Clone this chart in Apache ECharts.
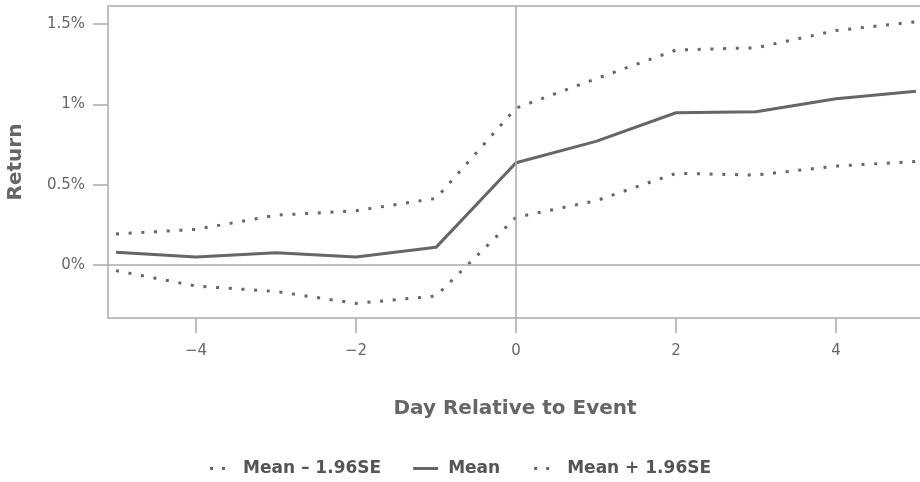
<!DOCTYPE html>
<html>
<head>
<meta charset="utf-8">
<script src="https://cdn.jsdelivr.net/npm/echarts@6/dist/echarts.min.js"></script>
<style>html,body{margin:0;padding:0;background:#fff}#c{width:920px;height:482px}</style>
</head>
<body>
<div id="c"></div>
<script>
var days = [-5, -4, -3, -2, -1, 0, 1, 2, 3, 4, 5];
var meanVals  = [0.079, 0.050, 0.077, 0.050, 0.110, 0.637, 0.770, 0.948, 0.955, 1.035, 1.082];
var upperVals = [0.193, 0.222, 0.310, 0.338, 0.415, 0.977, 1.160, 1.339, 1.353, 1.460, 1.515];
var lowerVals = [-0.035, -0.131, -0.165, -0.239, -0.193, 0.297, 0.400, 0.571, 0.560, 0.616, 0.645];
var xTicks = [-4, -2, 0, 2, 4];
var yTicks = [0, 0.5, 1, 1.5];

function pairs(vals) { return days.map(function (d, i) { return [d, vals[i]]; }); }
var FONT = 'DejaVu Sans';
var LINE = '#666666';
var DOT_ICON = 'path://M0,0M30,3M2,0h3v3h-3zM14,0h3v3h-3z';
var LINE_ICON = 'path://M0,0M30,3M0,0h25v3h-25z';
var chart = echarts.init(document.getElementById('c'), null, { renderer: 'canvas' });
chart.setOption({
  animation: false,
  textStyle: { fontFamily: FONT },
  grid: { left: 108, right: -2, top: 6, bottom: 164, containLabel: false, outerBoundsMode: 'none',
    show: true, borderColor: '#aaaaaa', borderWidth: 1.5, backgroundColor: 'transparent' },
  legend: {
    top: 455, left: 203, itemGap: 32, itemWidth: 30, itemHeight: 3,
    textStyle: { fontFamily: FONT, fontWeight: 'bold', fontSize: 17, color: '#555555' },
    data: [
      { name: 'Mean – 1.96SE', icon: DOT_ICON },
      { name: 'Mean', icon: LINE_ICON },
      { name: 'Mean + 1.96SE', icon: DOT_ICON }
    ]
  },
  xAxis: {
    type: 'value', min: -5.1, max: 5.075,
    name: 'Day Relative to Event', nameLocation: 'middle', nameGap: 81,
    nameTextStyle: { fontFamily: FONT, fontWeight: 'bold', fontSize: 20, color: '#666666' },
    axisLine: { show: false, onZero: false },
    axisTick: { show: true, inside: false, length: 15, customValues: xTicks, lineStyle: { color: '#aaaaaa', width: 1.5 } },
    axisLabel: { customValues: xTicks, margin: 26, fontSize: 15, color: '#666666', fontFamily: FONT,
      formatter: function (v) { return v < 0 ? '\u2212' + Math.abs(v) : String(v); } },
    splitLine: { show: false }
  },
  yAxis: {
    type: 'value', min: -0.33, max: 1.613,
    name: 'Return', nameLocation: 'middle', nameGap: 82,
    nameTextStyle: { fontFamily: FONT, fontWeight: 'bold', fontSize: 20, color: '#666666' },
    axisLine: { show: false, onZero: false },
    axisTick: { show: true, inside: false, length: 15, customValues: yTicks, lineStyle: { color: '#aaaaaa', width: 1.5 } },
    axisLabel: { customValues: yTicks, margin: 23, fontSize: 15, color: '#666666', fontFamily: FONT,
      formatter: function (v) { return v + '%'; } },
    splitLine: { show: false }
  },
  series: [
    {
      name: 'Mean – 1.96SE', type: 'line', data: pairs(lowerVals), symbol: 'none',
      lineStyle: { color: LINE, width: 3, type: [3, 9.7], cap: 'butt' }, itemStyle: { color: LINE }
    },
    {
      name: 'Mean', type: 'line', data: pairs(meanVals), symbol: 'none',
      lineStyle: { color: LINE, width: 3 }, itemStyle: { color: LINE },
      markLine: {
        silent: true, symbol: 'none', label: { show: false },
        lineStyle: { color: '#aaaaaa', width: 1.5, type: 'solid' },
        data: [{ yAxis: 0 }, { xAxis: 0 }]
      },
      z: 3
    },
    {
      name: 'Mean + 1.96SE', type: 'line', data: pairs(upperVals), symbol: 'none',
      lineStyle: { color: LINE, width: 3, type: [3, 9.7], cap: 'butt' }, itemStyle: { color: LINE }
    }
  ]
});
</script>
</body>
</html>
